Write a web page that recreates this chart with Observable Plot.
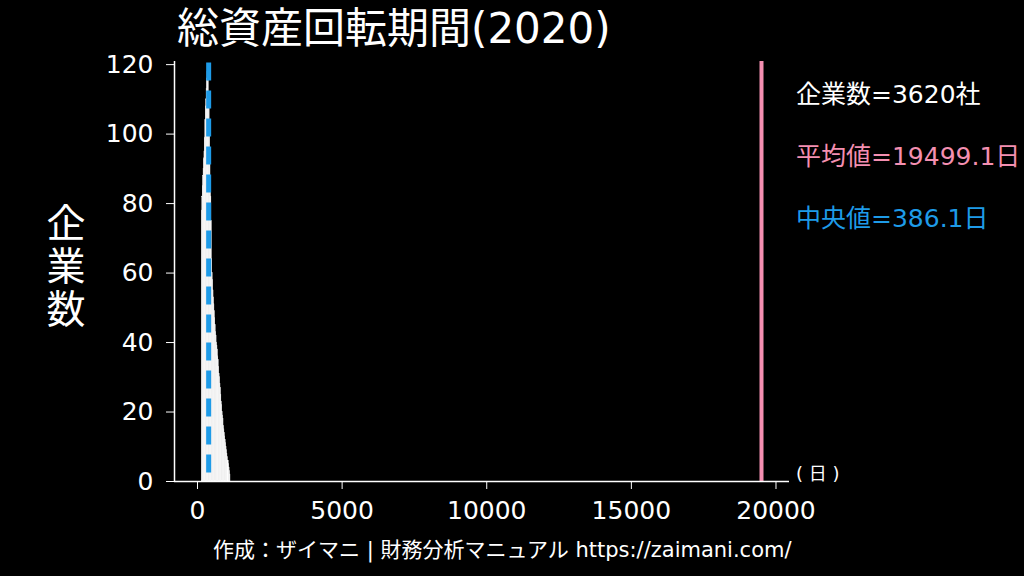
<!DOCTYPE html>
<html>
<head>
<meta charset="utf-8">
<script src="https://cdn.jsdelivr.net/npm/d3@7"></script>
<script src="https://cdn.jsdelivr.net/npm/@observablehq/plot@0.6"></script>
<style>
  html, body { margin: 0; padding: 0; background: #000; }
  #wrap { position: relative; width: 1024px; height: 576px; background: #000; overflow: hidden;
          font-family: "DejaVu Sans", "Noto Sans CJK JP", sans-serif; color: #fff; }
  .abs { position: absolute; white-space: nowrap; line-height: 1; }
</style>
</head>
<body>
<div id="wrap"></div>
<script>
// ---- data ----
const title = "総資産回転期間(2020)";
const yLabel = ["企", "業", "数"];
const unitLabel = "( 日 )";
const caption = "作成：ザイマニ | 財務分析マニュアル https://zaimani.com/";
const countText = "企業数=3620社";
const meanText = "平均値=19499.1日";
const medianText = "中央値=386.1日";
const meanValue = 19499.1;
const medianValue = 386.1;
const xTicks = [0, 5000, 10000, 15000, 20000];
const yTicks = [0, 20, 40, 60, 80, 100, 120];
const binWidth = 15;
const binStarts = [150,165,180,195,210,225,240,255,270,285,300,315,330,345,360,375,390,405,420,435,450,465,480,495,510,525,540,555,570,585,600,615,630,645,660,675,690,705,720,735,750,765,780,795,810,825,840,855,870,885,900,915,930,945,960,975,990,1005,1020,1035,1050,1065,1080,1095,1110,1125];
const binCounts = [78,82,85,88,90,93,95,99,104,108,110,113,116,118,115,117,112,108,100,94,88,82,75,64,60,58,55,53,51,49,47,45,43,42,40,39,38,36,35,33,31,30,28,27,25,23,22,20,19,18,16,15,14,13,12,11,10,9,8,7,6,6,5,4,3,2];

const bins = binStarts.map((s, i) => ({x1: s, x2: s + binWidth, y: binCounts[i]}));

const pink = "#f48fb1";
const blue = "#1e9be8";
const xMin = -795, xMax = 20467;
const font = "'DejaVu Sans', 'Noto Sans CJK JP', sans-serif";

const chart = Plot.plot({
  width: 1024,
  height: 576,
  marginLeft: 174,
  marginRight: 235,
  marginTop: 61,
  marginBottom: 95,
  style: { background: "transparent", color: "#fff", fontFamily: font, fontSize: "25px" },
  x: { domain: [xMin, xMax], ticks: xTicks, tickFormat: d3.format("d"), label: null },
  y: { domain: [0, 120.9], ticks: yTicks, label: null },
  marks: [
    Plot.rectY(bins, {x1: "x1", x2: "x2", y: "y", fill: "#fff", stroke: "#fff", strokeWidth: 0.4}),
    Plot.ruleX([medianValue], {y1: 120.5, y2: 0, stroke: blue, strokeWidth: 5, strokeDasharray: "18,10"}),
    Plot.ruleX([meanValue], {y1: 0, y2: 120.9, stroke: pink, strokeWidth: 4}),
    Plot.ruleX([xMin], {stroke: "#fff", strokeWidth: 1.5}),
    Plot.ruleY([0], {stroke: "#fff", strokeWidth: 1.5}),
    Plot.axisX({ticks: xTicks, tickFormat: d3.format("d"), tickSize: 8, tickPadding: 12, stroke: "#fff", fill: "#fff", fontSize: 25, label: null}),
    Plot.axisY({ticks: yTicks, tickSize: 8, tickPadding: 13, stroke: "#fff", fill: "#fff", fontSize: 25, label: null})
  ]
});

const wrap = document.getElementById("wrap");
chart.style.position = "absolute";
chart.style.left = "0px";
chart.style.top = "0px";
wrap.appendChild(chart);

function addText(html, left, top, size, color, extra) {
  const d = document.createElement("div");
  d.className = "abs";
  d.innerHTML = html;
  d.style.left = left + "px";
  d.style.top = top + "px";
  d.style.fontSize = size + "px";
  d.style.color = color;
  if (extra) Object.assign(d.style, extra);
  wrap.appendChild(d);
  return d;
}

addText(title, 177, 8, 42, "#fff");
addText(yLabel.join("<br>"), 46, 202, 39, "#fff", {lineHeight: "43px", width: "40px", textAlign: "center"});
addText(countText, 796, 82, 25, "#fff");
addText(meanText, 796, 144, 25, pink);
addText(medianText, 796, 206, 25, blue);
addText(unitLabel, 796, 465, 18, "#fff");
addText(caption, 213, 540, 21, "#fff");
</script>
</body>
</html>
